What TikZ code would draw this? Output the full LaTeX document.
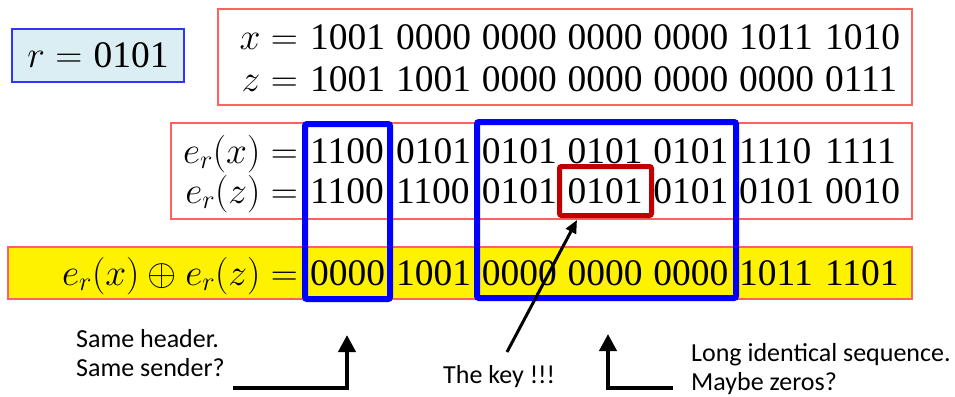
\RequirePackage{fix-cm}
\documentclass[tikz,border=0pt]{standalone}
\usepackage{fontspec}
\setsansfont{Carlito}
\newfontfamily\bitfont{Liberation Serif}
\usetikzlibrary{arrows.meta}
\definecolor{paleblue}{HTML}{DAEEF3}
\definecolor{rimblue}{HTML}{3333FF}
\definecolor{softred}{HTML}{FF6060}
\definecolor{keyred}{HTML}{C00000}
\tikzset{
  big/.style={font=\fontsize{37.5}{40}\selectfont, inner sep=0pt},
  bits/.style={big, font=\fontsize{37.5}{40}\selectfont\bitfont, anchor=base west},
  lhs/.style={big, anchor=base east},
  redframe/.style={draw=softred, line width=1.2pt, inner sep=0pt},
  groupbox/.style={draw=blue, line width=6pt, rounded corners=2pt, inner sep=0pt},
  keyframe/.style={draw=keyred, line width=5pt, rounded corners=2pt, inner sep=0pt},
  note/.style={font=\sffamily\fontsize{26}{28.5}\selectfont, inner sep=0pt, align=left, anchor=base west},
  elbowarrow/.style={line width=4pt, -{Triangle[width=17pt,length=17pt]}},
  pointer/.style={line width=3pt, -{Triangle[width=11pt,length=13pt]}},
}
\begin{document}
\begin{tikzpicture}[x=1pt,y=-1pt]
\useasboundingbox (0,0) rectangle (955,396);

% frames behind the rows
\node[redframe, minimum width=694pt, minimum height=96pt] (xzframe) at (565,57) {};
\node[redframe, minimum width=741pt, minimum height=96pt] (erframe) at (541.5,171) {};
\node[redframe, fill=yellow, minimum width=904pt, minimum height=52pt] (xorbar) at (460,273) {};

% the key r
\node[big, draw=rimblue, fill=paleblue, line width=1.2pt, minimum width=172pt, minimum height=53pt] (rkey) at (98,55.5) {$r =$ {\bitfont 0101}};

% left-hand sides
\node[lhs] (lx)  at (298,50)  {$x =$};
\node[lhs] (lz)  at (298,91)  {$z =$};
\node[lhs] (lex) at (298,163) {$e_r(x) =$};
\node[lhs] (lez) at (298,203) {$e_r(z) =$};
\node[lhs] (lxor) at (298,285) {$e_r(x)\oplus e_r(z) =$};

% the 4-bit groups, one column every 85.8pt
\foreach \g [count=\k from 0] in {1001,0000,0000,0000,0000,1011,1010}
  \node[bits] (x-\k) at (310+85.8*\k,50) {\g};
\foreach \g [count=\k from 0] in {1001,1001,0000,0000,0000,0000,0111}
  \node[bits] (z-\k) at (310+85.8*\k,91) {\g};
\foreach \g [count=\k from 0] in {1100,0101,0101,0101,0101,1110,1111}
  \node[bits] (ex-\k) at (310+85.8*\k,163) {\g};
\foreach \g [count=\k from 0] in {1100,1100,0101,0101,0101,0101,0010}
  \node[bits] (ez-\k) at (310+85.8*\k,203) {\g};
\foreach \g [count=\k from 0] in {0000,1001,0000,0000,0000,1011,1101}
  \node[bits] (xo-\k) at (310+85.8*\k,285) {\g};

% highlight boxes
\node[groupbox, minimum width=85pt, minimum height=175pt] (hdr) at (347.5,211.5) {};
\node[groupbox, minimum width=259pt, minimum height=176pt] (run) at (606.5,210) {};
\node[keyframe, minimum width=92pt, minimum height=49pt] (keycell) at (605.5,191) {};

% callouts (base anchor sits on the last line)
\node[note] (n1) at (76,376) {Same header.\\Same sender?};
\node[note] (n2) at (443,383) {The key !!!};
\node[note] (n3) at (691,390) {Long identical sequence.\\Maybe zeros?};

\coordinate (a1s) at (233,388);
\coordinate (a1t) at (347,335);
\draw[elbowarrow] (a1s) -| (a1t);

\coordinate (a2s) at (507,352);
\coordinate (a2t) at (577,220);
\draw[pointer] (a2s) -- (a2t);

\coordinate (a3s) at (673,388);
\coordinate (a3t) at (608,334);
\draw[elbowarrow] (a3s) -| (a3t);
\end{tikzpicture}
\end{document}
